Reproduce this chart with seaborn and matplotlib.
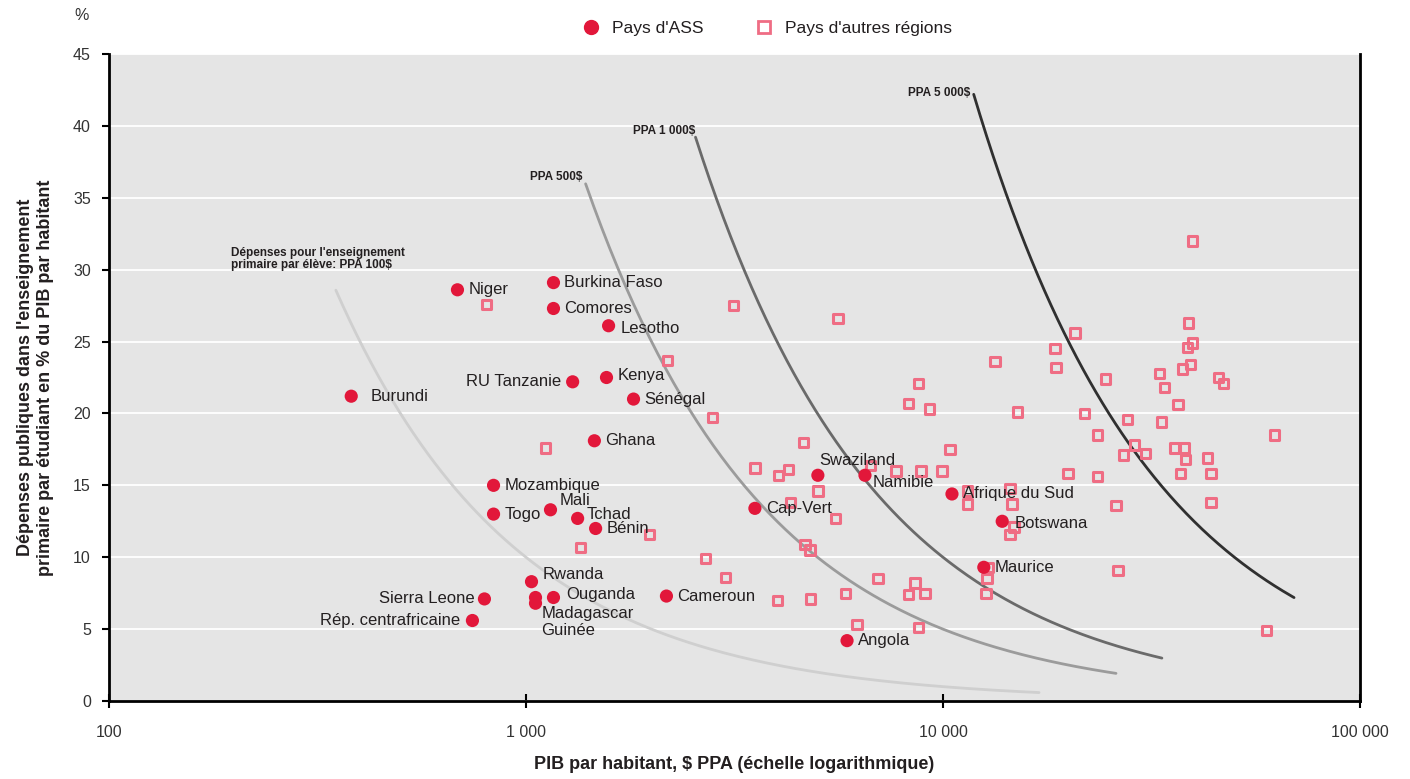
import matplotlib
matplotlib.use('Agg')
import matplotlib.pyplot as plt
from matplotlib.lines import Line2D
import numpy as np
import pandas as pd
import seaborn as sns

# SSA countries: GDP per capita (PPP $) and spending per primary pupil (% of GDP per capita)
ssa_names = ['Niger', 'Burkina Faso', 'Comores', 'Lesotho', 'RU Tanzanie', 'Kenya',
             'Sénégal', 'Burundi', 'Ghana', 'Mozambique', 'Togo', 'Mali', 'Tchad',
             'Bénin', 'Rwanda', 'Ouganda', 'Madagascar', 'Guinée', 'Sierra Leone',
             'Rép. centrafricaine', 'Cameroun', 'Cap-Vert', 'Swaziland', 'Namibie',
             'Angola', 'Afrique du Sud', 'Botswana', 'Maurice']
ssa_gdp = [685, 1164, 1164, 1578, 1294, 1560, 1811, 381, 1459, 836, 836, 1145, 1330,
           1469, 1031, 1164, 1054, 1054, 795, 744, 2172, 3540, 5012, 6501, 5888,
           10510, 13870, 12530]
ssa_spend = [28.6, 29.1, 27.3, 26.1, 22.2, 22.5, 21.0, 21.2, 18.1, 15.0, 13.0, 13.3,
             12.7, 12.0, 8.3, 7.2, 7.2, 6.8, 7.1, 5.6, 7.3, 13.4, 15.7, 15.7, 4.2,
             14.4, 12.5, 9.3]

# other regions
oth_gdp = [803, 3148, 2188, 2805, 1114, 4634, 3540, 4036, 4266, 5012, 4315, 1981, 1352,
           4667, 4797, 2698, 3013, 4018, 4819, 5598, 13340, 8750, 8277, 9300, 15070,
           10400, 6714, 7710, 8851, 9954, 11430, 11430, 14490, 14650, 5531, 14800,
           14490, 12830, 12760, 6982, 8570, 8277, 9060, 5848, 12680, 6223, 8750,
           39630, 38730, 20750, 18580, 39630, 38520, 18670, 37500, 39200, 24490,
           33040, 33970, 45710, 46990, 36640, 21830, 27690, 33370, 23440, 62350,
           28770, 30580, 27050, 35890, 37950, 38120, 43030, 19950, 23440, 37070,
           43950, 26000, 43950, 26300, 59700]
oth_spend = [27.6, 27.5, 23.7, 19.7, 17.6, 18.0, 16.2, 15.7, 16.1, 14.6, 13.8, 11.6, 10.7,
             10.9, 10.5, 9.9, 8.6, 7.0, 7.1, 26.6, 23.6, 22.1, 20.7, 20.3, 20.1,
             17.5, 16.4, 16.0, 16.0, 16.0, 14.6, 13.7, 14.8, 13.7, 12.7, 12.1,
             11.6, 9.3, 8.5, 8.5, 8.2, 7.4, 7.5, 7.5, 7.5, 5.3, 5.1,
             32.0, 26.3, 25.6, 24.5, 24.9, 24.6, 23.2, 23.1, 23.4, 22.4,
             22.8, 21.8, 22.5, 22.1, 20.6, 20.0, 19.6, 19.4, 18.5, 18.5,
             17.8, 17.2, 17.1, 17.6, 17.6, 16.8, 16.9, 15.8, 15.6, 15.8,
             15.8, 13.6, 13.8, 9.1, 4.9]

# iso-spending curves (PPA $ per pupil) and their GDP range
ppa_levels = [100, 500, 1000, 5000]
ppa_x_start = [350, 1390, 2550, 11850]
ppa_x_end = [17000, 26000, 33500, 69500]
ppa_labels = ["Dépenses pour l'enseignement\nprimaire par élève: PPA 100$",
              'PPA 500$', 'PPA 1 000$', 'PPA 5 000$']
ppa_colors = ['#cfcfcf', '#9b9b9b', '#6a6a6a', '#303030']

# label offsets in pixels (dx, dy, ha)
label_off = {'RU Tanzanie': (-12, 0, 'right'), 'Sierra Leone': (-10, 0, 'right'),
             'Rép. centrafricaine': (-12, 0, 'right'), 'Burundi': (19, 0, 'left'),
             'Lesotho': (12, -3, 'left'), 'Kenya': (11, 2, 'left'),
             'Mali': (9, 9, 'left'), 'Tchad': (9, 4, 'left'), 'Rwanda': (11, 7, 'left'),
             'Ouganda': (13, 3, 'left'), 'Madagascar': (6, -16, 'left'),
             'Guinée': (6, -27, 'left'), 'Swaziland': (1, 15, 'left'),
             'Namibie': (8, -7, 'left'), 'Botswana': (12, -2, 'left')}

sns.set_style('white')
plt.rcParams['font.family'] = ['Liberation Sans', 'DejaVu Sans']

fig = plt.figure(figsize=(14.1, 7.79), dpi=100)
ax = fig.add_axes([0.0773, 0.1001, 0.8872, 0.8306])
ax.set_facecolor('#e5e5e5')

red = '#e2173a'
pink = '#ef6d84'
txt = '#231f20'

for lvl, x0, x1, col in zip(ppa_levels, ppa_x_start, ppa_x_end, ppa_colors):
    xs = np.geomspace(x0, x1, 200)
    curve = pd.DataFrame({'x': xs, 'y': 100 * lvl / xs})
    sns.lineplot(data=curve, x='x', y='y', color=col, lw=2, sort=False,
                 estimator=None, ax=ax, zorder=2)

sns.scatterplot(x=oth_gdp, y=oth_spend, marker='s', s=45, facecolor='none',
                edgecolor=pink, linewidth=2.2, ax=ax, zorder=3)
sns.scatterplot(x=ssa_gdp, y=ssa_spend, marker='o', s=90, color=red,
                edgecolor='none', linewidth=0, ax=ax, zorder=4)

for name, gx, sy in zip(ssa_names, ssa_gdp, ssa_spend):
    dx, dy, ha = label_off.get(name, (11, 0, 'left'))
    ax.annotate(name, (gx, sy), xytext=(dx, dy), textcoords='offset pixels',
                ha=ha, va='center', fontsize=12, color=txt, zorder=5)

# curve labels
ax.annotate(ppa_labels[0], (231, 779 - 271), xycoords='figure pixels', fontsize=8.5,
            fontweight='bold', color=txt, ha='left', va='bottom', linespacing=1.0)
ax.annotate(ppa_labels[1], (582, 779 - 177), xycoords='figure pixels', fontsize=8.5,
            fontweight='bold', color=txt, ha='right', va='center')
ax.annotate(ppa_labels[2], (695, 779 - 131), xycoords='figure pixels', fontsize=8.5,
            fontweight='bold', color=txt, ha='right', va='center')
ax.annotate(ppa_labels[3], (970, 779 - 93), xycoords='figure pixels', fontsize=8.5,
            fontweight='bold', color=txt, ha='right', va='center')

ax.set_xscale('log')
ax.set_xlim(100, 100000)
ax.set_ylim(0, 45)
ax.set_xticks([100, 1000, 10000, 100000])
ax.set_xticklabels(['100', '1 000', '10 000', '100 000'])
ax.xaxis.set_minor_locator(matplotlib.ticker.NullLocator())
ax.set_yticks(range(0, 50, 5))
ax.grid(axis='y', color='white', lw=1.3)
ax.grid(axis='x', visible=False)
ax.set_axisbelow(True)

for side in ['left', 'bottom', 'right']:
    ax.spines[side].set_visible(True)
    ax.spines[side].set_color('black')
    ax.spines[side].set_linewidth(2)
ax.spines['top'].set_visible(False)

ax.tick_params(axis='y', direction='out', length=5, width=1.5, color='black',
               labelsize=11.5, labelcolor='#333333', pad=8, left=True)
ax.tick_params(axis='x', direction='inout', length=10, width=1.5, color='black',
               labelsize=11.5, labelcolor='#333333', pad=12, bottom=True)

ax.set_xlabel('PIB par habitant, $ PPA (échelle logarithmique)', fontsize=13,
              fontweight='bold', color=txt, labelpad=12)
ax.set_ylabel("Dépenses publiques dans l'enseignement\n"
              "primaire par étudiant en % du PIB par habitant",
              fontsize=13, fontweight='bold', color=txt, labelpad=14)
fig.text(82 / 1410, 1 - 15 / 779, '%', fontsize=11.5, color='#333333',
         ha='center', va='center')

handles = [Line2D([], [], marker='o', ls='none', color=red, markersize=10),
           Line2D([], [], marker='s', ls='none', markerfacecolor='none',
                  markeredgecolor=pink, markeredgewidth=2, markersize=8)]
fig.legend(handles, ["Pays d'ASS", "Pays d'autres régions"], loc='center',
           bbox_to_anchor=(0.541, 0.964), ncol=2, frameon=False, fontsize=12.5,
           handletextpad=0.2, columnspacing=2.5, labelcolor=txt)

fig.savefig('out.png', dpi=100)
